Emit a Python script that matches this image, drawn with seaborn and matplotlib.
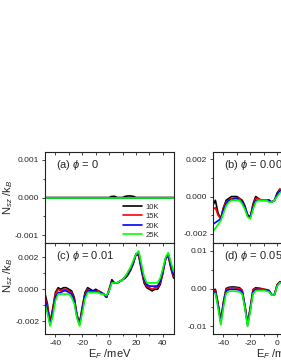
"""
Spin Nernst coefficient N_sz/k_B versus Fermi energy for four temperatures
and four values of phi, in a 2x2 grid (right column cropped as in the source).
"""
import numpy as np
import pandas as pd
import matplotlib
matplotlib.use("Agg")
import matplotlib.pyplot as plt
import seaborn as sns
from matplotlib.ticker import FormatStrFormatter, MultipleLocator

energy = [-48, -46, -44, -42, -40, -38, -36, -34, -32, -30, -28, -26, -24,
          -22, -20, -18, -16, -14, -12, -10, -8, -6, -4, -2, 0, 2, 4, 6, 8,
          10, 12, 14, 16, 18, 20, 22, 24, 26, 28, 30, 32, 34, 36, 38, 40,
          42, 44, 46, 48]
temps = ["10K", "15K", "20K", "25K"]
line_colors = ["#000000", "#ff0000", "#0000ff", "#00ff00"]

# N_sz/k_B in units of 1e-4, one list per temperature
phi_a_10K = [0, 0, 0, 0, 0, 0, 0, 0, 0, 0, 0, 0, 0, 0, 0, 0, 0, 0, 0, 0, 0, 0, 0, 0, 0,
             0.3, 0.3, 0, 0, 0, 0.3, 0.4, 0.4, 0.3, 0, 0, 0, 0, 0, 0, 0, 0, 0, 0, 0, 0, 0, 0, 0]
phi_a_15K = [0] * 49
phi_a_20K = [0] * 49
phi_a_25K = [0] * 49

phi_b_10K = [-5, -2, -9, -12, -6, -2, -1, 0, 0, 0, -1, -2, -5, -10, -11, -4, 0, -1, -2, -2,
             -2, -2, -3, -2, 2, 4, 3, 2, 2, 2, 2, 3, 5, 9, 12, 10, 5, 2, 1, 0, 0, 0, 1, 2,
             5, 10, 12, 8, 5]
phi_b_15K = [-7, -6, -10, -12, -6, -3, -2, -1, -1, -1, -1, -3, -6, -10, -11, -5, -1, -1, -2,
             -2, -2, -2, -3, -2, 1, 4, 3, 2, 2, 2, 3, 4, 6, 9, 12, 10, 6, 3, 2, 1, 1, 1, 2,
             3, 6, 10, 12, 9, 6]
phi_b_20K = [-15, -14, -13, -12, -7, -4, -2, -2, -1, -1, -2, -3, -6, -10, -11, -6, -2, -2,
             -2, -2, -2, -2, -3, -2, 1, 3, 3, 2, 2, 2, 3, 4, 6, 10, 12, 11, 7, 4, 3, 2, 2,
             2, 2, 4, 7, 10, 12, 10, 8]
phi_b_25K = [-19, -17, -15, -13, -9, -5, -3, -2, -2, -2, -2, -4, -7, -11, -12, -7, -3, -2,
             -2, -2, -2, -3, -3, -2, 0, 2, 3, 3, 2, 3, 3, 4, 7, 10, 12, 11, 8, 5, 3, 3, 2,
             2, 3, 5, 8, 11, 12, 11, 10]

phi_c_10K = [-2, -9, -21, -12, -2, 1, 0, 1, 1, 0, -1, -5, -16, -21, -11, -2, 1, 0, -1, 0,
             -1, -2, -3, -5, 0, 6, 4, 4, 5, 6, 7, 9, 12, 16, 22, 21, 12, 4, 1, 0, -1, 0, 0,
             3, 10, 19, 21, 13, 7]
phi_c_15K = [-4, -11, -21, -13, -3, 0, -1, 0, 0, -1, -2, -6, -16, -22, -12, -3, 0, -1, -1,
             -1, -1, -2, -3, -5, 0, 5, 4, 4, 5, 6, 8, 10, 13, 17, 22, 22, 13, 5, 2, 1, 0, 1,
             1, 4, 11, 19, 22, 14, 8]
phi_c_20K = [-6, -13, -22, -15, -5, -2, -2, -1, -1, -2, -3, -7, -17, -22, -13, -4, -1, -1,
             -1, -1, -2, -2, -3, -5, -1, 5, 4, 4, 5, 6, 8, 10, 13, 17, 22, 23, 14, 6, 3, 2,
             2, 2, 2, 5, 12, 19, 22, 15, 9]
phi_c_25K = [-9, -15, -23, -17, -7, -3, -3, -3, -3, -3, -5, -9, -18, -23, -15, -6, -2, -2,
             -2, -2, -2, -3, -3, -4, -1, 4, 4, 4, 5, 6, 8, 11, 14, 18, 22, 24, 16, 8, 4, 4,
             4, 4, 4, 7, 13, 20, 23, 17, 11]

phi_d_10K = [-5, -2, -40, -85, -35, 0, 3, 4, 4, 3, 2, -5, -45, -92, -50, -3, 2, 1, 0, -2,
             -3, -5, -17, -16, 10, 18, 15, 8, 5, 4, 3, 3, 5, 15, 55, 92, 45, 3, -2, -3, -4,
             -4, -3, 0, 35, 85, 40, 2, 5]
phi_d_15K = [-7, -5, -42, -87, -38, -3, 1, 2, 2, 1, 0, -7, -47, -94, -52, -5, 0, 0, -1, -2,
             -4, -6, -17, -16, 9, 17, 14, 8, 5, 4, 3, 3, 6, 17, 57, 93, 47, 5, 0, -1, -2,
             -2, -1, 2, 37, 86, 42, 4, 6]
phi_d_20K = [-10, -9, -45, -90, -42, -7, -3, -2, -2, -3, -4, -10, -49, -96, -55, -9, -3, -2,
             -3, -4, -5, -7, -17, -16, 8, 16, 13, 8, 6, 5, 4, 4, 7, 19, 60, 95, 50, 8, 3, 2,
             1, 1, 2, 5, 40, 88, 45, 7, 8]
phi_d_25K = [-14, -13, -52, -96, -50, -12, -8, -7, -7, -8, -9, -15, -53, -100, -60, -14, -6,
             -5, -5, -5, -7, -9, -18, -17, 6, 15, 12, 9, 7, 6, 5, 5, 8, 22, 63, 98, 55, 12,
             7, 6, 5, 5, 6, 9, 45, 92, 50, 11, 10]


def to_frame(series):
    parts = [pd.DataFrame({"E_F": energy, "N": np.array(vals, dtype=float) * 1e-4, "T": t})
             for t, vals in zip(temps, series)]
    return pd.concat(parts, ignore_index=True)


sns.set_style("ticks")
plt.rcParams["font.family"] = ["Liberation Sans", "DejaVu Sans"]
plt.rcParams["mathtext.fontset"] = "custom"
plt.rcParams["mathtext.rm"] = "Liberation Sans"
plt.rcParams["mathtext.it"] = "Liberation Sans:italic"
plt.rcParams["axes.unicode_minus"] = False

W, H = 281, 363
fig = plt.figure(figsize=(W / 100, H / 100), dpi=100)


def box(x0, y0, x1, y1):
    return [x0 / W, 1 - y1 / H, (x1 - x0) / W, (y1 - y0) / H]


panels = [
    ("(a) $\\phi$ = 0", box(44.7, 152, 174.3, 243),
     [phi_a_10K, phi_a_15K, phi_a_20K, phi_a_25K], (-0.0012, 0.0012), 0.001, "%.3f", "a"),
    ("(b) $\\phi$ = 0.005", box(212.7, 152, 342.3, 243),
     [phi_b_10K, phi_b_15K, phi_b_20K, phi_b_25K], (-0.0025, 0.0024), 0.002, "%.3f", "b"),
    ("(c) $\\phi$ = 0.01", box(44.7, 243, 174.3, 334),
     [phi_c_10K, phi_c_15K, phi_c_20K, phi_c_25K], (-0.0028, 0.0029), 0.002, "%.3f", "c"),
    ("(d) $\\phi$ = 0.05", box(212.7, 243, 342.3, 334),
     [phi_d_10K, phi_d_15K, phi_d_20K, phi_d_25K], (-0.012, 0.012), 0.01, "%.2f", "d"),
]

for title, rect, series, ylim, ystep, yfmt, key in panels:
    ax = fig.add_axes(rect)
    df = to_frame(series)
    sns.lineplot(data=df, x="E_F", y="N", hue="T", hue_order=temps, palette=line_colors,
                 estimator=None, sort=False, linewidth=1.2, ax=ax, legend=(key == "a"))
    ax.set_xlim(-48, 48.5)
    ax.set_ylim(*ylim)
    ax.xaxis.set_major_locator(MultipleLocator(20))
    ax.xaxis.set_minor_locator(MultipleLocator(10))
    ax.yaxis.set_major_locator(MultipleLocator(ystep))
    ax.yaxis.set_minor_locator(MultipleLocator(ystep / 2))
    ax.yaxis.set_major_formatter(FormatStrFormatter(yfmt))
    ax.tick_params(which="both", direction="out", width=0.6, labelsize=6, pad=1.5,
                   top=False, right=False)
    ax.tick_params(which="major", length=2.5)
    ax.tick_params(which="minor", length=1.5)
    top = ax.secondary_xaxis("top")
    top.set_xticks([-40, -30, -20, -10, 0, 10, 20, 30, 40])
    top.tick_params(direction="in", length=1.8, width=0.6, labeltop=False)
    for s in ax.spines.values():
        s.set_linewidth(0.8)
        s.set_color("#222222")
    top.spines["top"].set_visible(False)

    ax.text(0.09, 0.86, title, transform=ax.transAxes, fontsize=8, va="center", ha="left")

    if key in ("a", "b"):
        ax.tick_params(labelbottom=False)
        ax.set_xlabel("")
    else:
        ax.set_xlabel("E$_F$ /meV", fontsize=8)
        ax.xaxis.set_label_coords(0.5, -0.14)
        ax.xaxis.label.set_va("top")
    if key in ("a", "c"):
        ax.set_ylabel("N$_{sz}$ /k$_B$", fontsize=8)
        ax.yaxis.set_label_coords(-0.23, 0.5 if key == "a" else 0.64)
    else:
        ax.set_ylabel("")

    if key == "a":
        handles, labels = ax.get_legend_handles_labels()
        ax.legend(handles, labels, loc="upper left", bbox_to_anchor=(0.604, 0.437),
                  frameon=False, fontsize=5.5, handlelength=2.5, handletextpad=0.4,
                  labelspacing=0.28, borderpad=0, borderaxespad=0)

fig.savefig("out.png", dpi=100)
